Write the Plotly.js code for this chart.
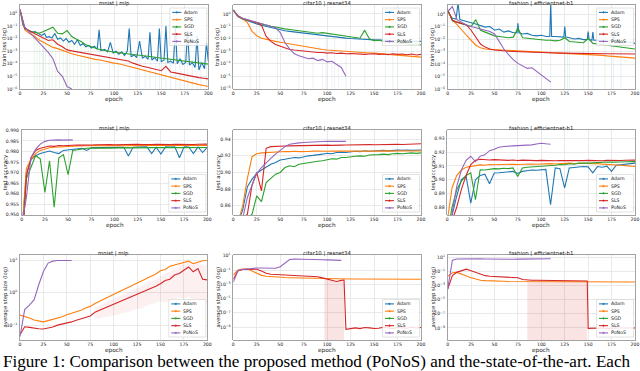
<!DOCTYPE html>
<html>
<head>
<meta charset="utf-8">
<script src="https://cdn.plot.ly/plotly-3.0.1.min.js"></script>
<style>
  html, body { margin: 0; padding: 0; background: #fff; }
  #chart { width: 640px; height: 371px; }
</style>
</head>
<body>
<div id="chart"></div>
<script>
// methods and colours (matplotlib tab10)
var methods = ['Adam', 'SPS', 'SGD', 'SLS', 'PoNoS'];
var colors = ['#1f77b4', '#ff7f0e', '#2ca02c', '#d62728', '#9467bd'];

var epochs = [0,5,10,15,20,25,30,35,40,45,50,55,60,65,70,75,80,85,90,95,100,105,110,115,120,125,130,135,140,145,150,155,160,165,170,175,180,185,190,195,200];

// ---- train loss, log10 values ----
var mnistAdamEpochs = [0,3,6,10,13,16,20,23,26,28,31,34,37,40,43,46,49,52,55,58,61,64,67,70,73,76,79,82,84,86,90,93,96,99,102,105,108,111,114,116,118,121,124,127,130,133,136,138,140,143,146,148,150,153,155,157,160,163,165,167,170,173,176,178,180,183,186,188,190,193,196,198,200];
var mnistAdamLoss = [0.3,-0.9,-1.2,-1.35,-1.5,-1.45,-1.6,-1.75,-1.6,-1.9,-1.85,-1.95,-1.6,-2.05,-1.95,-2.2,-2.0,-2.3,-2.15,-2.45,-2.1,-2.55,-2.4,-2.65,-2.55,-2.75,-2.6,-2.85,-1.3,-2.95,-2.85,-3.05,-2.3,-3.15,-3.0,-3.25,-3.05,-3.35,-3.0,-1.2,-3.45,-3.3,-3.5,-2.2,-3.55,-3.4,-3.65,-1.5,-3.7,-3.5,-3.8,-1.2,-3.85,-3.7,-1.0,-3.9,-3.8,-3.95,-1.1,-4.0,-3.6,-4.05,-3.9,-1.4,-4.1,-3.9,-4.3,-1.8,-4.5,-3.9,-4.4,-2.3,-3.8];
var mnistSpsLoss = [0.3,-1.3,-1.6,-1.8,-2.1,-2.3,-2.5,-2.7,-2.8,-2.95,-3.1,-3.2,-3.3,-3.4,-3.5,-3.55,-3.65,-3.7,-3.8,-3.85,-3.95,-4.0,-4.1,-4.2,-4.3,-4.4,-4.5,-4.6,-4.7,-4.8,-4.9,-5.0,-5.1,-5.2,-5.3,-5.4,-5.5,-5.55,-5.65,-5.72,-5.8];
var mnistSgdLoss = [0.26,-1.2,-1.4,-1.5,-1.58,-1.45,-1.26,-1.1,-1.58,-1.63,-1.37,-1.84,-2.05,-2.24,-2.5,-2.63,-2.76,-2.88,-2.95,-3.03,-3.08,-3.12,-3.16,-3.2,-3.25,-3.29,-3.34,-3.39,-3.44,-3.5,-3.55,-3.6,-3.65,-3.7,-3.75,-3.82,-3.87,-3.92,-3.96,-4.0,-4.03];
var mnistSlsLoss = [0.3,-1.2,-1.4,-1.6,-1.8,-2.0,-2.15,-2.1,-2.45,-2.65,-2.9,-2.98,-3.05,-3.12,-3.18,-3.24,-3.3,-3.36,-3.42,-3.5,-3.55,-3.62,-3.7,-3.78,-3.95,-4.1,-4.2,-4.28,-4.36,-4.45,-4.55,-4.2,-4.65,-4.72,-4.8,-4.9,-4.98,-5.05,-5.1,-5.15,-5.2];
var mnistPonosLoss = [0.3,-1.1,-1.5,-1.9,-2.3,-2.7,-3.1,-3.6,-4.6,-5.0,-5.8,-6.0];

var cifarAdamLoss = [0.3,-0.2,-0.4,-0.55,-0.7,-0.8,-0.9,-1.0,-1.1,-1.2,-1.28,-1.35,-1.4,-1.45,-1.5,-1.55,-1.6,-1.65,-1.7,-1.75,-1.8,-1.84,-1.88,-1.9,-1.94,-1.97,-2.0,-2.02,-2.05,-2.04,-2.08,-2.1,-2.09,-2.12,-2.15,-2.14,-2.18,-2.2,-2.19,-2.22,-2.2];
var cifarSpsLoss = [0.3,-0.2,-0.4,-0.7,-1.4,-1.75,-1.95,-2.05,-2.12,-2.2,-2.28,-2.35,-2.42,-2.48,-2.55,-2.6,-2.67,-2.72,-2.78,-2.85,-2.9,-2.93,-2.97,-3.0,-3.03,-3.07,-3.08,-3.1,-3.12,-3.14,-3.15,-3.18,-3.2,-3.23,-3.26,-3.28,-3.32,-3.36,-3.4,-3.44,-3.47];
var cifarSgdLoss = [0.35,-0.2,-0.4,-0.5,-0.6,-0.75,-0.85,-0.95,-1.0,-1.05,-1.15,-1.2,-1.25,-1.3,-1.35,-1.4,-1.45,-1.5,-1.55,-1.5,-1.55,-1.65,-1.7,-1.75,-1.8,-1.85,-1.9,-1.95,-1.3,-2.0,-2.15,-2.1,-2.2,-2.25,-2.3,-2.35,-2.35,-2.4,-2.45,-2.4,-2.5];
var cifarSlsLoss = [0.3,-0.15,-0.35,-0.5,-0.6,-0.7,-0.9,-1.8,-2.2,-2.45,-2.6,-2.75,-2.85,-2.9,-2.95,-3.0,-3.0,-3.05,-3.1,-3.1,-3.15,-3.12,-3.18,-3.15,-3.2,-3.18,-3.22,-3.2,-3.25,-3.22,-3.2,-3.25,-3.22,-3.28,-3.2,-3.25,-3.22,-3.28,-3.22,-3.3,-3.25];
var cifarPonosLoss = [0.3,-0.2,-0.35,-0.45,-0.55,-0.65,-0.75,-0.85,-0.95,-1.1,-1.5,-2.3,-2.8,-3.2,-3.35,-3.5,-3.6,-3.55,-3.75,-3.65,-3.85,-3.8,-4.05,-4.3,-5.0];

var fashionAdamEpochs = [0,5,9,11,13,15,20,25,30,35,40,45,50,55,60,65,70,74,75,76,80,85,90,95,100,105,109,110,111,115,120,124,125,126,130,135,140,145,149,150,151,154,155,156,160,165,170,175,177,180,185,190,195,200];
var fashionAdamLoss = [0.2,-0.35,-0.4,0.9,-0.45,-0.5,-0.6,-0.7,-0.8,-0.9,-1.05,-1.0,-1.3,-1.2,-1.45,-1.35,-1.5,-1.5,-0.75,-1.5,-1.6,-1.55,-1.7,-1.75,-1.7,-1.8,-1.8,0.9,-1.8,-1.8,-1.85,-1.85,-1.0,-1.85,-1.9,-2.0,-1.95,-2.05,-2.05,-1.4,-2.05,-2.1,-1.45,-2.1,-2.1,-2.15,-2.2,-2.1,-1.8,-2.2,-2.25,-2.2,-2.3,-2.35];
var fashionSpsLoss = [0.3,-0.5,-0.85,-1.3,-1.7,-2.1,-2.5,-2.7,-2.8,-2.83,-2.85,-2.86,-2.88,-2.9,-2.92,-2.93,-2.95,-2.97,-2.99,-3.0,-3.03,-3.06,-3.09,-3.11,-3.14,-3.15,-3.16,-3.18,-3.19,-3.2,-3.21,-3.24,-3.27,-3.31,-3.35,-3.38,-3.41,-3.44,-3.47,-3.5,-3.53];
var fashionSgdLoss = [0.35,-0.55,-0.65,-0.75,-0.85,-1.0,-0.45,-1.3,-1.45,-1.6,-1.75,-1.8,-1.85,-1.9,-1.85,-1.15,-1.9,-1.95,-2.0,-2.05,-2.05,-2.1,-2.1,-2.15,-2.1,-1.9,-2.2,-2.25,-2.25,-2.3,-1.95,-2.35,-2.4,-2.45,-2.5,-2.55,-2.6,-2.65,-2.7,-2.75,-2.8];
var fashionSlsLoss = [0.3,-0.5,-0.65,-0.75,-0.88,-1.3,-1.85,-2.4,-2.65,-2.8,-2.88,-2.93,-2.96,-2.98,-3.0,-3.02,-3.04,-3.05,-3.07,-3.08,-3.1,-3.11,-3.12,-3.12,-3.13,-3.14,-3.14,-3.15,-3.15,-3.16,-3.16,-3.17,-3.17,-3.18,-3.18,-3.18,-3.19,-3.19,-3.2,-3.2,-3.2];
var fashionPonosLoss = [0.2,0.6,-0.45,-0.7,-0.88,-1.0,-1.1,-1.22,-1.3,-1.4,-1.6,-2.2,-2.8,-3.25,-3.65,-3.95,-4.15,-4.35,-4.3,-4.6,-4.9,-5.15,-5.45];

// faint std stripes (lower band reaching zero on the log axis): epoch, top log10 value
var mnistSgdStripeEpochs = [15,18,21,24,27,31,34,38,42,46,49,53,57,61,65,69,73];
var mnistSgdStripeTops = [-1.5,-1.55,-1.6,-1.5,-1.4,-1.2,-1.1,-1.4,-1.6,-1.6,-1.4,-1.7,-1.9,-2.05,-2.2,-2.4,-2.55];
var mnistAdamStripeEpochs = [84,95,104,116,123,127,133,138,144,148,155,160,165,170,178,183,188,192,198];
var mnistAdamStripeTops = [-1.3,-2.3,-2.8,-1.2,-3.0,-2.2,-3.2,-1.5,-3.4,-1.2,-1.0,-3.5,-1.1,-3.3,-1.4,-3.6,-1.8,-3.8,-2.3];
var cifarAdamStripeEpochs = [18,99,108,120,170];
var cifarAdamStripeTops = [-0.6,-1.8,-1.9,-1.95,-2.15];
var cifarSgdStripeEpochs = [28,47,140,162,190];
var cifarSgdStripeTops = [-0.85,-1.1,-1.3,-2.2,-2.45];
var cifarPonosStripeEpochs = [70,85,95,105,112];
var cifarPonosStripeTops = [-3.4,-3.5,-3.6,-3.8,-4.0];
var fashionAdamStripeEpochs = [11,22,45,55,74,110,125,128,150,155,177,185];
var fashionAdamStripeTops = [0.9,-0.6,-1.0,-1.2,-0.75,0.9,-1.0,-1.9,-1.4,-1.45,-1.8,-2.25];
var fashionSgdStripeEpochs = [17,30,73,130,145,168];
var fashionSgdStripeTops = [-0.8,-0.45,-1.15,-2.2,-2.3,-2.5];
var fashionPonosStripeEpochs = [60,70,80,95,100];
var fashionPonosStripeTops = [-2.8,-3.6,-4.1,-4.6,-4.9];

// ---- test accuracy ----
var mnistAdamAcc = [0.94,0.9695,0.976,0.978,0.979,0.9795,0.9802,0.9795,0.979,0.9805,0.9808,0.981,0.9813,0.9815,0.9805,0.9817,0.9818,0.9818,0.9819,0.9818,0.982,0.9819,0.982,0.9778,0.982,0.9821,0.982,0.9822,0.979,0.982,0.9788,0.9822,0.9821,0.9822,0.977,0.9822,0.9821,0.979,0.9822,0.9795,0.9821];
var mnistSpsAcc = [0.94,0.972,0.976,0.979,0.9805,0.9812,0.9818,0.982,0.9822,0.9823,0.9824,0.9825,0.9826,0.9827,0.9826,0.9827,0.9828,0.9827,0.9828,0.9827,0.9828,0.9828,0.9827,0.9828,0.9828,0.9827,0.9828,0.9829,0.9828,0.9828,0.9829,0.9828,0.9829,0.9828,0.9829,0.9828,0.9829,0.9829,0.9828,0.9829,0.9829];
var mnistSgdAcc = [0.935,0.967,0.9725,0.978,0.9765,0.9605,0.9755,0.9535,0.977,0.9785,0.969,0.9805,0.9808,0.9812,0.9815,0.9816,0.9817,0.9816,0.9817,0.9816,0.9817,0.9818,0.9817,0.9818,0.9817,0.9818,0.9818,0.9817,0.9818,0.9818,0.9819,0.9818,0.9818,0.9819,0.9818,0.9818,0.9819,0.9818,0.9819,0.9818,0.9819];
var mnistSlsAcc = [0.93,0.968,0.977,0.9805,0.9815,0.9822,0.9826,0.9824,0.9828,0.9827,0.9829,0.983,0.9831,0.983,0.9832,0.9831,0.9832,0.9833,0.9832,0.9833,0.9832,0.9833,0.9833,0.9832,0.9833,0.9834,0.9833,0.9832,0.9833,0.9834,0.9833,0.9834,0.9833,0.9834,0.9833,0.9834,0.9834,0.9833,0.9834,0.9835,0.9835];
var mnistPonosAcc = [0.945,0.958,0.977,0.981,0.9835,0.9848,0.9853,0.9855,0.9855,0.9854,0.9856,0.9855];

var cifarAdamAcc = [0.83,0.84,0.855,0.883,0.892,0.899,0.903,0.907,0.91,0.912,0.915,0.916,0.917,0.918,0.9175,0.919,0.92,0.9205,0.921,0.922,0.923,0.9225,0.924,0.9245,0.924,0.925,0.9255,0.925,0.926,0.9255,0.926,0.926,0.9265,0.926,0.9265,0.927,0.9265,0.927,0.9265,0.927,0.927];
var cifarSpsAcc = [0.83,0.84,0.86,0.893,0.919,0.9225,0.9235,0.924,0.9245,0.925,0.9248,0.9252,0.925,0.9255,0.925,0.9255,0.9252,0.9256,0.9253,0.9257,0.9255,0.9258,0.9254,0.9257,0.9256,0.9258,0.9255,0.9259,0.9256,0.9258,0.9257,0.926,0.9256,0.9259,0.9257,0.926,0.9258,0.9261,0.9258,0.926,0.9259];
var cifarSgdAcc = [0.83,0.835,0.84,0.845,0.85,0.872,0.865,0.888,0.893,0.898,0.9,0.906,0.908,0.907,0.91,0.911,0.912,0.913,0.9135,0.914,0.915,0.9165,0.916,0.918,0.918,0.919,0.9195,0.92,0.9195,0.921,0.921,0.9215,0.922,0.9215,0.9225,0.923,0.9225,0.923,0.9235,0.923,0.9235];
var cifarSlsAcc = [0.83,0.835,0.845,0.85,0.885,0.9,0.878,0.929,0.931,0.9315,0.932,0.9318,0.932,0.9322,0.932,0.9325,0.9322,0.9325,0.9323,0.9327,0.9328,0.9325,0.933,0.9328,0.933,0.9332,0.933,0.9333,0.933,0.9335,0.9333,0.9335,0.9333,0.9337,0.9335,0.9338,0.9336,0.934,0.9338,0.9342,0.9345];
var cifarPonosAcc = [0.83,0.835,0.845,0.87,0.885,0.899,0.906,0.912,0.917,0.922,0.927,0.931,0.934,0.935,0.9355,0.936,0.9365,0.9368,0.937,0.9372,0.9375,0.9373,0.9375,0.9372,0.9374];

var fashionAdamAcc = [0.86,0.875,0.888,0.9,0.9025,0.883,0.9,0.903,0.904,0.897,0.9048,0.905,0.9055,0.9058,0.906,0.9045,0.906,0.9065,0.907,0.9068,0.907,0.9075,0.8818,0.9085,0.908,0.894,0.9085,0.909,0.9093,0.9095,0.9093,0.905,0.9095,0.909,0.9098,0.906,0.9105,0.911,0.9115,0.9118,0.912];
var fashionSpsAcc = [0.87,0.894,0.903,0.907,0.909,0.9095,0.9105,0.9107,0.9105,0.911,0.9108,0.911,0.9107,0.911,0.9112,0.911,0.9113,0.9111,0.9114,0.9112,0.9115,0.9113,0.9116,0.9114,0.9117,0.9118,0.912,0.9117,0.9119,0.9116,0.9118,0.9115,0.9117,0.9113,0.9112,0.911,0.9108,0.9105,0.9102,0.9098,0.9095];
var fashionSgdAcc = [0.86,0.88,0.8925,0.899,0.903,0.905,0.8855,0.9072,0.907,0.9075,0.908,0.9078,0.9083,0.908,0.9085,0.9023,0.9085,0.909,0.9092,0.9095,0.91,0.9098,0.9102,0.9105,0.911,0.9108,0.9115,0.9112,0.912,0.9118,0.912,0.9122,0.9125,0.9125,0.9128,0.9127,0.913,0.9128,0.913,0.9132,0.9131];
var fashionSlsAcc = [0.86,0.87,0.88,0.893,0.903,0.911,0.914,0.9148,0.9145,0.9143,0.9145,0.9142,0.9144,0.914,0.9143,0.9139,0.9142,0.914,0.9141,0.9138,0.914,0.9138,0.914,0.9137,0.9139,0.9138,0.914,0.9137,0.9139,0.9138,0.914,0.9138,0.9139,0.9137,0.914,0.9138,0.914,0.9139,0.9141,0.914,0.9142];
var fashionPonosAcc = [0.86,0.875,0.895,0.907,0.914,0.917,0.913,0.917,0.918,0.921,0.922,0.9235,0.924,0.924,0.9245,0.9247,0.9248,0.925,0.9252,0.9258,0.9264,0.926,0.9257];

// ---- average step size, log10 values (Adam and SGD have none) ----
var mnistSpsStep = [-0.69,-0.73,-0.78,-0.84,-0.88,-0.9,-0.86,-0.82,-0.8,-0.74,-0.68,-0.64,-0.58,-0.54,-0.47,-0.42,-0.33,-0.26,-0.2,-0.12,-0.04,0.02,0.1,0.17,0.24,0.3,0.36,0.44,0.52,0.58,0.68,0.72,0.82,0.86,0.92,0.96,0.98,0.9,0.95,0.99,1.0];
var mnistSlsStep = [-1.3,-1.05,-1.07,-1.1,-1.11,-1.12,-1.1,-1.06,-1.0,-0.97,-0.93,-0.9,-0.85,-0.8,-0.75,-0.72,-0.6,-0.54,-0.46,-0.4,-0.36,-0.28,-0.22,-0.18,-0.1,-0.06,0.02,0.08,0.14,0.2,0.28,0.38,0.42,0.55,0.6,0.7,0.8,0.65,0.75,0.42,0.4];
var mnistPonosStep = [-1.35,-0.52,-0.38,-0.22,0.25,0.66,0.92,0.98,1.0,1.0,1.0,1.0];
var mnistSlsBandEpochs = [80,85,90,95,100,105,110,115,120,125,130,135,140,145,150,155,160,165,170,175,180,185,190,195,200];
var mnistSlsBandHigh = [-0.45,-0.4,-0.32,-0.25,-0.2,-0.12,-0.06,0.0,0.08,0.14,0.22,0.28,0.35,0.42,0.5,0.6,0.65,0.75,0.82,0.9,0.97,0.95,0.97,0.85,0.85];
var mnistSlsBandLow = [-0.8,-0.8,-0.75,-0.72,-0.7,-0.68,-0.62,-0.6,-0.55,-0.5,-0.48,-0.4,-0.35,-0.3,-0.25,-0.3,-0.25,-0.2,-0.15,-0.2,-0.1,-0.3,-0.2,-0.4,-0.3];

var cifarSpsStep = [-1.7,-1.0,-0.88,-0.82,-1.15,-1.5,-1.75,-1.88,-1.95,-2.0,-2.03,-2.06,-2.08,-2.1,-2.12,-2.14,-2.16,-2.18,-2.19,-2.2,-2.21,-2.22,-2.23,-2.24,-2.25,-2.26,-2.26,-2.27,-2.27,-2.28,-2.28,-2.28,-2.29,-2.29,-2.29,-2.3,-2.3,-2.3,-2.3,-2.3,-2.3];
var cifarSlsEpochs = [0,5,10,15,20,25,30,35,40,45,50,55,60,65,70,75,80,85,90,95,100,105,110,115,118,120,125,130,135,140,145,150,155,160,165,170,175,180,185,190,195,200];
var cifarSlsStep = [-2.3,-1.1,-0.92,-0.9,-0.88,-0.9,-1.15,-1.45,-1.6,-1.63,-1.66,-1.68,-1.7,-1.72,-1.75,-1.78,-1.82,-1.88,-1.95,-2.1,-2.3,-2.5,-2.6,-2.45,-2.4,-9.3,-9.15,-9.1,-9.2,-9.05,-9.1,-9.2,-9.15,-9.0,-9.1,-9.2,-9.05,-9.1,-9.15,-9.0,-9.1,-9.05];
var cifarPonosStep = [-2.7,-1.1,-0.92,-0.84,-0.78,-0.72,-0.72,-0.7,-0.72,-0.75,-0.55,0.0,0.45,0.53,0.53,0.52,0.5,0.48,0.47,0.44,0.42,0.4,0.38,0.35];
var cifarSlsBandEpochs = [97,100,105,110,115,118];
var cifarSlsBandHigh = [-2.15,-2.3,-2.5,-2.6,-2.45,-2.4];

var fashionSpsStep = [-1.7,-1.2,-1.14,-1.35,-1.65,-1.9,-2.1,-2.25,-2.3,-2.35,-2.38,-2.4,-2.4,-2.42,-2.42,-2.43,-2.43,-2.44,-2.44,-2.44,-2.45,-2.45,-2.45,-2.45,-2.46,-2.46,-2.46,-2.46,-2.47,-2.47,-2.47,-2.47,-2.47,-2.48,-2.48,-2.48,-2.48,-2.48,-2.48,-2.49,-2.49];
var fashionSlsEpochs = [0,5,10,15,20,25,30,35,40,45,50,55,60,65,70,75,80,85,90,95,100,105,110,115,120,125,130,135,140,145,149,150,155,160,165,170,175,180,185,190,195,200];
var fashionSlsStep = [-3.5,-1.6,-1.1,-0.92,-0.68,-0.9,-1.15,-1.45,-1.6,-1.68,-1.72,-1.75,-1.78,-1.8,-1.82,-1.9,-2.15,-2.22,-2.25,-2.25,-2.26,-2.25,-2.27,-2.26,-2.28,-2.27,-2.28,-2.3,-2.29,-2.3,-2.35,-9.05,-9.0,-9.05,-9.0,-9.05,-9.0,-9.05,-9.0,-9.0,-9.05,-9.0];
var fashionPonosStep = [-3.5,0.6,0.75,0.77,0.78,0.77,0.76,0.77,0.76,0.74,0.72,0.7,0.68,0.7,0.72,0.73,0.74,0.75,0.76,0.77,0.78,0.79,0.8];
var fashionSlsBandEpochs = [85,90,95,100,105,110,115,120,125,130,135,140,145,149];
var fashionSlsBandHigh = [-2.22,-2.25,-2.25,-2.26,-2.25,-2.27,-2.26,-2.28,-2.27,-2.28,-2.3,-2.29,-2.3,-2.35];

var titles = ['mnist | mlp', 'cifar10 | resnet34', 'fashion | efficientnet-b1'];
var rowLabels = ['train loss (log)', 'test accuracy', 'average step size (log)'];
var caption = 'Figure 1: Comparison between the proposed method (PoNoS) and the-state-of-the-art. Each';

// ---------------------------------------------------------------
var W = 640, H = 371;
function px(x) { return x / W; }
function py(y) { return 1 - y / H; }
function pow10(arr) { return arr.map(function (v) { return Math.pow(10, v); }); }
function upTo(n) { return epochs.slice(0, n); }

// panel boxes in pixels
var rowTop = [5, 130, 255], rowBottom = [89, 215, 340];
var colLeft = [[20, 233.3, 447.7], [21.7, 233.3, 447.3], [20, 233.3, 447.7]];
var colRight = [[208.3, 421, 635], [207.3, 421, 635], [207.3, 421, 635]];

// series per panel, order Adam, SPS, SGD, SLS, PoNoS
var panelSeries = [
  [[mnistAdamEpochs, pow10(mnistAdamLoss)], [epochs, pow10(mnistSpsLoss)], [epochs, pow10(mnistSgdLoss)], [epochs, pow10(mnistSlsLoss)], [upTo(mnistPonosLoss.length), pow10(mnistPonosLoss)]],
  [[epochs, pow10(cifarAdamLoss)], [epochs, pow10(cifarSpsLoss)], [epochs, pow10(cifarSgdLoss)], [epochs, pow10(cifarSlsLoss)], [upTo(cifarPonosLoss.length), pow10(cifarPonosLoss)]],
  [[fashionAdamEpochs, pow10(fashionAdamLoss)], [epochs, pow10(fashionSpsLoss)], [epochs, pow10(fashionSgdLoss)], [epochs, pow10(fashionSlsLoss)], [upTo(fashionPonosLoss.length), pow10(fashionPonosLoss)]],
  [[epochs, mnistAdamAcc], [epochs, mnistSpsAcc], [epochs, mnistSgdAcc], [epochs, mnistSlsAcc], [upTo(mnistPonosAcc.length), mnistPonosAcc]],
  [[epochs, cifarAdamAcc], [epochs, cifarSpsAcc], [epochs, cifarSgdAcc], [epochs, cifarSlsAcc], [upTo(cifarPonosAcc.length), cifarPonosAcc]],
  [[epochs, fashionAdamAcc], [epochs, fashionSpsAcc], [epochs, fashionSgdAcc], [epochs, fashionSlsAcc], [upTo(fashionPonosAcc.length), fashionPonosAcc]],
  [null, [epochs, pow10(mnistSpsStep)], null, [epochs, pow10(mnistSlsStep)], [upTo(mnistPonosStep.length), pow10(mnistPonosStep)]],
  [null, [epochs, pow10(cifarSpsStep)], null, [cifarSlsEpochs, pow10(cifarSlsStep)], [upTo(cifarPonosStep.length), pow10(cifarPonosStep)]],
  [null, [epochs, pow10(fashionSpsStep)], null, [fashionSlsEpochs, pow10(fashionSlsStep)], [upTo(fashionPonosStep.length), pow10(fashionPonosStep)]]
];

// faint stripes: [panel, colour index, epochs, tops]
var stripes = [
  [0, 2, mnistSgdStripeEpochs, mnistSgdStripeTops],
  [0, 0, mnistAdamStripeEpochs, mnistAdamStripeTops],
  [1, 0, cifarAdamStripeEpochs, cifarAdamStripeTops],
  [1, 2, cifarSgdStripeEpochs, cifarSgdStripeTops],
  [1, 4, cifarPonosStripeEpochs, cifarPonosStripeTops],
  [2, 0, fashionAdamStripeEpochs, fashionAdamStripeTops],
  [2, 2, fashionSgdStripeEpochs, fashionSgdStripeTops],
  [2, 4, fashionPonosStripeEpochs, fashionPonosStripeTops]
];

function expTicks(exps) {
  return {
    tickvals: exps.map(function (e) { return Math.pow(10, e); }),
    ticktext: exps.map(function (e) { return '10<sup>' + String(e).replace('-', '\u2212') + '</sup>'; })
  };
}

var yAxisSpec = [
  {type: 'log', range: [-6.0, 0.66], ticks: expTicks([0, -1, -2, -3, -4, -5, -6])},
  {type: 'log', range: [-6.03, 0.72], ticks: expTicks([0, -1, -2, -3, -4, -5, -6])},
  {type: 'log', range: [-6.0, 0.72], ticks: expTicks([0, -1, -2, -3, -4, -5, -6])},
  {type: 'linear', range: [0.9498, 0.9902], tick0: 0.95, dtick: 0.005, fmt: '.3f'},
  {type: 'linear', range: [0.849, 0.951], tick0: 0.86, dtick: 0.02, fmt: '.2f'},
  {type: 'linear', range: [0.8744, 0.936], tick0: 0.88, dtick: 0.01, fmt: '.2f'},
  {type: 'log', range: [-1.46, 1.17], ticks: expTicks([1, 0, -1])},
  {type: 'log', range: [-10.8, 1.1], ticks: expTicks([1, -1, -3, -5, -7, -9])},
  {type: 'log', range: [-10.7, 1.32], ticks: expTicks([1, -1, -3, -5, -7, -9])}
];

var FONT = 'DejaVu Sans, sans-serif';
var gridColor = '#e3e3e3';
var frameColor = '#8c8c8c';

var traces = [];
var layout = {
  width: W, height: H,
  margin: {l: 0, r: 0, t: 0, b: 0},
  paper_bgcolor: '#fff', plot_bgcolor: '#fff',
  showlegend: false, barmode: 'overlay',
  font: {family: FONT, size: 5, color: '#222'},
  shapes: [], annotations: []
};

function axisName(i, letter) { return letter + (i === 0 ? '' : String(i + 1)); }

function rgba(hex, a) {
  var n = parseInt(hex.slice(1), 16);
  return 'rgba(' + (n >> 16) + ',' + ((n >> 8) & 255) + ',' + (n & 255) + ',' + a + ')';
}

// band (std fill) traces, added before lines
function addBand(i, xs, hi, lo, alpha) {
  var xa = axisName(i, 'x'), ya = axisName(i, 'y');
  traces.push({x: xs, y: lo, xaxis: xa, yaxis: ya, mode: 'lines', line: {width: 0, color: 'rgba(0,0,0,0)'}, hoverinfo: 'skip'});
  traces.push({x: xs, y: hi, xaxis: xa, yaxis: ya, mode: 'lines', line: {width: 0, color: 'rgba(0,0,0,0)'},
    fill: 'tonexty', fillcolor: rgba(colors[3], alpha), hoverinfo: 'skip'});
}
addBand(6, mnistSlsBandEpochs, pow10(mnistSlsBandHigh), pow10(mnistSlsBandLow), 0.07);
addBand(7, cifarSlsBandEpochs, pow10(cifarSlsBandHigh), cifarSlsBandEpochs.map(function () { return 1e-12; }), 0.13);
addBand(8, fashionSlsBandEpochs, pow10(fashionSlsBandHigh), fashionSlsBandEpochs.map(function () { return 1e-12; }), 0.13);

stripes.forEach(function (s) {
  traces.push({type: 'bar', x: s[2], y: pow10(s[3]), base: 1e-7, width: 1.1,
    xaxis: axisName(s[0], 'x'), yaxis: axisName(s[0], 'y'),
    marker: {color: rgba(colors[s[1]], 0.1), line: {width: 0}}, hoverinfo: 'skip'});
});

for (var i = 0; i < 9; i++) {
  var r = Math.floor(i / 3), c = i % 3;
  var L = colLeft[r][c], R = colRight[r][c], T = rowTop[r], B = rowBottom[r];
  var xa = axisName(i, 'x'), ya = axisName(i, 'y');
  var xKey = 'xaxis' + (i === 0 ? '' : i + 1), yKey = 'yaxis' + (i === 0 ? '' : i + 1);

  layout[xKey] = {
    domain: [px(L), px(R)], anchor: ya, range: [0, 200],
    tick0: 0, dtick: 25, showgrid: true, gridcolor: gridColor, gridwidth: 0.8,
    zeroline: false, showline: true, mirror: true, linecolor: frameColor, linewidth: 0.8,
    ticks: '', tickfont: {size: 4.6, color: '#222'}, ticklabelstandoff: 0
  };
  var s = yAxisSpec[i];
  var yax = {
    domain: [py(B), py(T)], anchor: xa, type: s.type, range: s.range,
    showgrid: true, gridcolor: gridColor, gridwidth: 0.8,
    zeroline: false, showline: true, mirror: true, linecolor: frameColor, linewidth: 0.8,
    ticks: '', tickfont: {size: 4.6, color: '#222'}, ticklabelstandoff: 1
  };
  if (s.ticks) { yax.tickmode = 'array'; yax.tickvals = s.ticks.tickvals; yax.ticktext = s.ticks.ticktext; }
  else { yax.tick0 = s.tick0; yax.dtick = s.dtick; yax.tickformat = s.fmt; }
  layout[yKey] = yax;

  // lines
  panelSeries[i].forEach(function (sr, k) {
    if (!sr) return;
    traces.push({
      x: sr[0], y: sr[1], xaxis: xa, yaxis: ya, name: methods[k],
      mode: 'lines', line: {color: colors[k], width: 1.1}
    });
  });

  // title, x label, y label
  var cx = (L + R) / 2;
  layout.annotations.push({xref: 'paper', yref: 'paper', x: px(cx), y: py(T - 2), text: titles[c],
    showarrow: false, xanchor: 'center', yanchor: 'middle', font: {size: 5.4, color: '#222'}, borderpad: 0});
  layout.annotations.push({xref: 'paper', yref: 'paper', x: px(cx), y: py(B + 10), text: 'epoch',
    showarrow: false, xanchor: 'center', yanchor: 'middle', font: {size: 5.8, color: '#222'}, borderpad: 0});
  var ylabX = [5, 218, 433][c];
  layout.annotations.push({xref: 'paper', yref: 'paper', x: px(ylabX), y: py((T + B) / 2), text: rowLabels[r],
    showarrow: false, textangle: -90, xanchor: 'center', yanchor: 'middle', font: {size: 5.3, color: '#222'}});

  // legend box drawn by hand (matplotlib style, compact)
  var bw = 37, bh = 37.5, bx1 = R - 1.5, bx0 = bx1 - bw;
  var by0 = (r === 0) ? T + 3 : B - 3 - bh;
  layout.shapes.push({type: 'rect', xref: 'paper', yref: 'paper', x0: px(bx0), x1: px(bx1), y0: py(by0), y1: py(by0 + bh),
    fillcolor: 'rgba(255,255,255,0.85)', line: {color: '#d0d0d0', width: 0.6}});
  for (var k = 0; k < 5; k++) {
    var ly = by0 + 4.4 + k * 7.25;
    layout.shapes.push({type: 'line', xref: 'paper', yref: 'paper', x0: px(bx0 + 2.5), x1: px(bx0 + 11.5), y0: py(ly), y1: py(ly),
      line: {color: colors[k], width: 1.1}});
    layout.shapes.push({type: 'circle', xref: 'paper', yref: 'paper', x0: px(bx0 + 6.2), x1: px(bx0 + 7.8), y0: py(ly - 0.8), y1: py(ly + 0.8),
      fillcolor: colors[k], line: {color: colors[k], width: 0.4}});
    layout.annotations.push({xref: 'paper', yref: 'paper', x: px(bx0 + 13.5), y: py(ly), text: methods[k],
      showarrow: false, xanchor: 'left', yanchor: 'middle', font: {size: 4.7, color: '#222'}, borderpad: 0});
  }
}

// figure caption
layout.annotations.push({xref: 'paper', yref: 'paper', x: px(2), y: py(361.5), text: caption,
  showarrow: false, xanchor: 'left', yanchor: 'middle',
  font: {family: 'Liberation Serif, Times New Roman, serif', size: 17.1, color: '#000'}, borderpad: 0});

Plotly.newPlot('chart', traces, layout, {staticPlot: true, displayModeBar: false});
</script>
</body>
</html>
